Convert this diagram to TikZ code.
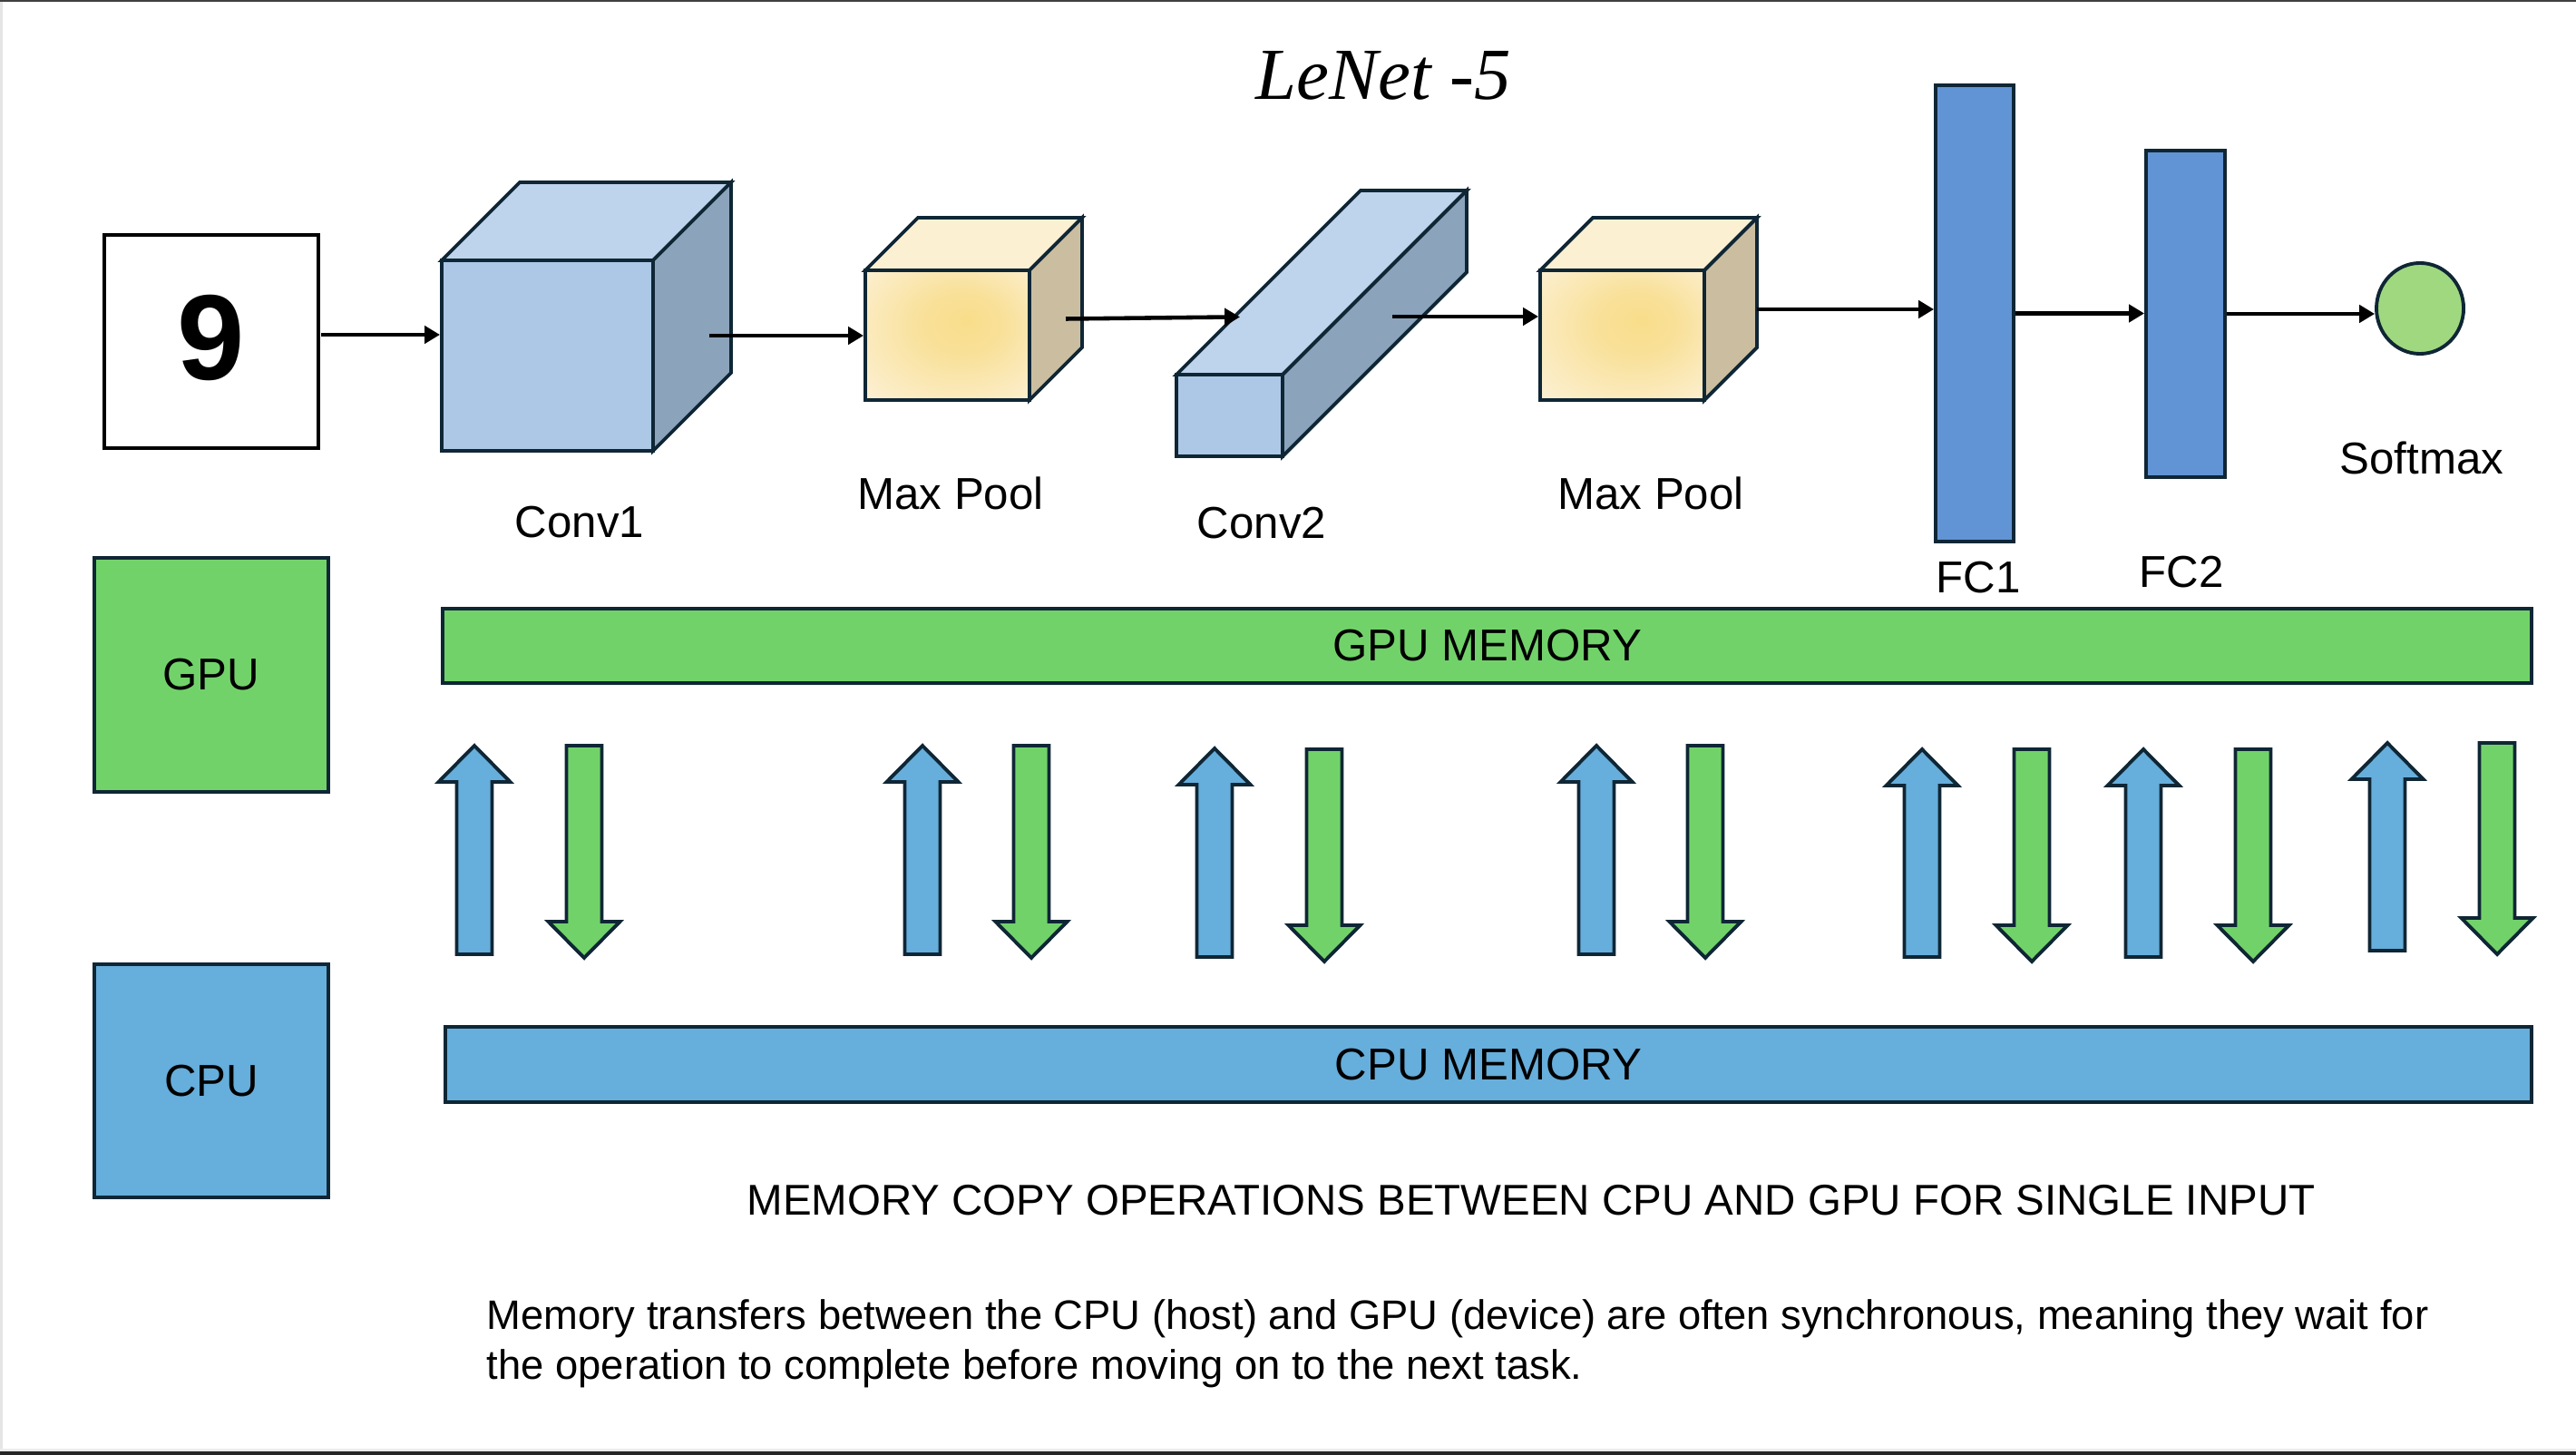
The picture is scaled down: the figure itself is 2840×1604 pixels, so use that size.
\documentclass[tikz,border=0pt]{standalone}
\usepackage{fontspec}
\setmainfont{Liberation Sans}
\newfontfamily\titlefont{Liberation Serif}
\usetikzlibrary{arrows.meta,shapes.geometric}
\definecolor{outline}{RGB}{15,38,53}
\definecolor{cafront}{RGB}{173,200,230}
\definecolor{catop}{RGB}{190,211,236}
\definecolor{caside}{RGB}{140,163,188}
\definecolor{mptop}{RGB}{252,240,210}
\definecolor{mpside}{RGB}{203,190,160}
\definecolor{fcblue}{RGB}{97,148,212}
\definecolor{softgreen}{RGB}{160,216,128}
\definecolor{gpugreen}{RGB}{114,210,106}
\definecolor{cpublue}{RGB}{102,174,219}
\pgfdeclareradialshading{mpshade}{\pgfpoint{6bp}{6bp}}{%
  rgb(0bp)=(0.973,0.867,0.541); rgb(12bp)=(0.975,0.88,0.60); rgb(38bp)=(0.99,0.945,0.84); rgb(50bp)=(0.99,0.95,0.86)}
\newcommand\cubefaces[7]{%
  \filldraw[edge, fill=#6] (#1,#2) -- ({#1+#5},{#2-#5}) -- ({#3+#5},{#2-#5}) -- (#3,#2) -- cycle;
  \filldraw[edge, fill=#7] (#3,#2) -- ({#3+#5},{#2-#5}) -- ({#3+#5},{#4-#5}) -- (#3,#4) -- cycle;}
\newcommand\upblk[3]{%
  \filldraw[edge, fill=cpublue] ({#1-19.5},#3) -- ({#1-19.5},{#2+40}) -- ({#1-39.5},{#2+40}) -- (#1,#2)
    -- ({#1+39.5},{#2+40}) -- ({#1+19.5},{#2+40}) -- ({#1+19.5},#3) -- cycle;}
\newcommand\downblk[3]{%
  \filldraw[edge, fill=gpugreen] ({#1-19.5},#2) -- ({#1-19.5},{#3-40}) -- ({#1-39.5},{#3-40}) -- (#1,#3)
    -- ({#1+39.5},{#3-40}) -- ({#1+19.5},{#3-40}) -- ({#1+19.5},#2) -- cycle;}
\tikzset{
  edge/.style={draw=outline, line width=1.1pt, line join=miter},
  flow/.style={-{Triangle[length=4.8pt,width=5.4pt]}, line width=1.3pt, black},
  lbl/.style={anchor=base, inner sep=0pt, font=\fontsize{14}{16}\selectfont},
  rbox/.style={edge, inner sep=0pt, font=\fontsize{14}{16}\selectfont},
}
\begin{document}
\begin{tikzpicture}[x=0.01cm, y=-0.01cm]
\useasboundingbox (0,0) rectangle (2840,1604);
\fill[white] (0,0) rectangle (2840,1604);
% frame
\fill[gray!20] (0,0) rectangle (3,1604);
\fill[black!75] (0,0) rectangle (2840,2);
\fill[gray!15] (0,1597) rectangle (2840,1600);
\fill[black!85] (0,1600) rectangle (2840,1604);

% title
\node[anchor=base, inner sep=0pt, font=\titlefont\itshape\fontsize{23}{26}\selectfont] (title) at (1525,110) {LeNet -5};

% input
\node[draw=black, line width=1.3pt, minimum width=2.36cm, minimum height=2.35cm, inner sep=0pt,
      font=\fontsize{38}{40}\selectfont\bfseries] (in) at (233,376.5) {\raisebox{0.1cm}{9}};

% Conv1
\cubefaces{487}{287}{720}{497}{86}{catop}{caside}
\node[rbox, fill=cafront, minimum width=2.33cm, minimum height=2.10cm] (conv1) at (603.5,392) {};
% Max pool 1
\cubefaces{954}{298}{1135}{441}{58}{mptop}{mpside}
\node[rbox, shading=mpshade, minimum width=1.81cm, minimum height=1.43cm] (mp1) at (1044.5,369.5) {};
% Conv2
\cubefaces{1297}{413}{1414}{503}{203}{catop}{caside}
\node[rbox, fill=cafront, minimum width=1.17cm, minimum height=0.90cm] (conv2) at (1355.5,458) {};
% Max pool 2
\cubefaces{1698}{298}{1879}{441}{58}{mptop}{mpside}
\node[rbox, shading=mpshade, minimum width=1.81cm, minimum height=1.43cm] (mp2) at (1788.5,369.5) {};
% FC layers
\node[rbox, fill=fcblue, minimum width=0.86cm, minimum height=5.03cm] (fc1) at (2177,345.5) {};
\node[rbox, fill=fcblue, minimum width=0.87cm, minimum height=3.60cm] (fc2) at (2409.5,346) {};
\node[edge, fill=softgreen, ellipse, minimum width=0.96cm, minimum height=1.00cm, inner sep=0pt] (soft) at (2668,340) {};

% connectors
\coordinate (s1) at (354,369);
\coordinate (s2) at (782,370);
\coordinate (s3) at (1175,351.5);
\coordinate (e3) at (1367,349.4);
\coordinate (s4) at (1535,349);
\coordinate (s5) at (1937,341);
\draw[flow] (s1) -- (s1 -| conv1.west);
\draw[flow] (s2) -- (s2 -| mp1.west);
\draw[flow] (s3) -- (e3);
\draw[flow] (s4) -- (s4 -| mp2.west);
\draw[flow] (s5) -- (s5 -| fc1.west);
\draw[flow] (fc1.east) -- (fc1.east -| fc2.west);
\draw[flow] (fc2.east) -- (fc2.east -| soft.west);

% labels
\node[lbl] (lconv1) at (639,593) {Conv1};
\node[lbl] (lmp1) at (1048,562) {Max Pool};
\node[lbl] (lconv2) at (1391,594) {Conv2};
\node[lbl] (lmp2) at (1820,562) {Max Pool};
\node[lbl] (lfc1) at (2181,654) {FC1};
\node[lbl] (lfc2) at (2405,648) {FC2};
\node[lbl] (lsoft) at (2670,523) {Softmax};

% GPU / CPU
\node[rbox, fill=gpugreen, minimum width=2.58cm, minimum height=2.58cm] (gpu) at (233,744) {GPU};
\node[rbox, fill=cpublue, minimum width=2.58cm, minimum height=2.57cm] (cpu) at (233,1191.5) {CPU};
\node[rbox, fill=gpugreen, minimum width=23.01cm, minimum height=0.82cm] (gmem) at (1639.5,712) {GPU MEMORY};
\node[rbox, fill=cpublue, minimum width=22.98cm, minimum height=0.83cm] (cmem) at (1641,1173.5) {CPU MEMORY};

% transfer arrows
\upblk{523}{822}{1052}
\downblk{644}{822}{1056}
\upblk{1017}{822}{1052}
\downblk{1137}{822}{1056}
\upblk{1339}{825}{1055}
\downblk{1460}{826}{1060}
\upblk{1760}{822}{1052}
\downblk{1880}{822}{1056}
\upblk{2119}{826}{1055}
\downblk{2240}{826}{1060}
\upblk{2363}{826}{1055}
\downblk{2484}{826}{1060}
\upblk{2632}{819}{1048}
\downblk{2753}{819}{1052}

% captions
\node[anchor=base, inner sep=0pt, font=\fontsize{13.5}{16}\selectfont] (head) at (1688,1339)
  {MEMORY COPY OPERATIONS BETWEEN CPU AND GPU FOR SINGLE INPUT};
\node[anchor=base west, inner sep=0pt, font=\fontsize{12.9}{15}\selectfont] (p1) at (536,1465)
  {Memory transfers between the CPU (host) and GPU (device) are often synchronous, meaning they wait for};
\node[anchor=base west, inner sep=0pt, font=\fontsize{12.9}{15}\selectfont] (p2) at (536,1520)
  {the operation to complete before moving on to the next task.};
\end{tikzpicture}
\end{document}
